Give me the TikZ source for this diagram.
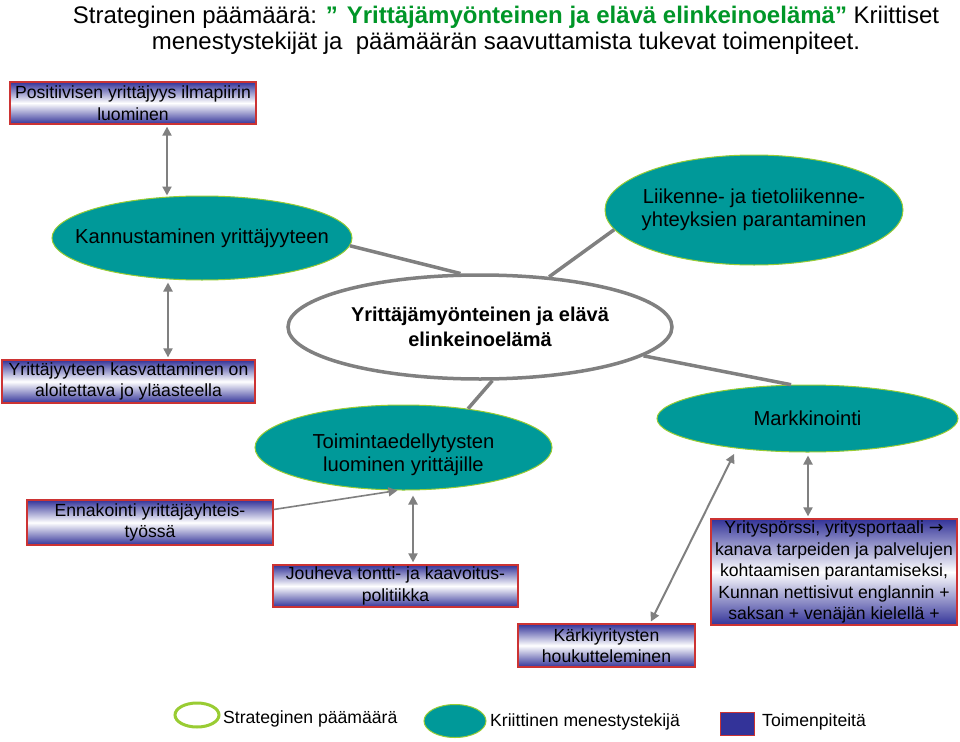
\documentclass[tikz,border=0pt]{standalone}
\usepackage{fontspec}
\setmainfont{Liberation Sans}
\newfontfamily\djv{DejaVu Sans}
\usetikzlibrary{arrows.meta,shapes.geometric,calc}
\definecolor{boxblue}{RGB}{51,51,153}
\definecolor{boxred}{RGB}{204,51,51}
\definecolor{tealc}{RGB}{0,153,153}
\definecolor{limec}{RGB}{153,204,51}
\definecolor{greyc}{RGB}{128,128,128}
\definecolor{titlegreen}{RGB}{0,150,40}
\newcommand\bxf{\fontsize{17.6}{21.5}\selectfont}
\newcommand\elf{\fontsize{20.2}{23}\selectfont}
\newcommand\cnf{\fontsize{20}{25}\selectfont\bfseries}
\newcommand\ttf{\fontsize{24}{26}\selectfont}
\begin{document}
\begin{tikzpicture}[x=1pt,y=-1pt,
  actbox/.style={rectangle, draw=boxred, line width=1.3pt, top color=boxblue,
    bottom color=boxblue, middle color=white, inner sep=0pt, align=center, font=\bxf},
  cfact/.style={ellipse, draw=limec, line width=1pt, fill=tealc, inner sep=0pt},
  etxt/.style={inner sep=0pt, align=center, font=\elf},
  conn/.style={draw=greyc, line width=3.5pt},
  dbl/.style={draw=greyc, fill=greyc, line width=2pt, {Triangle[length=9pt,width=9pt]}-{Triangle[length=9pt,width=9pt]}},
  sgl/.style={draw=greyc, fill=greyc, line width=1.6pt, -{Triangle[length=9pt,width=9pt]}},
  legt/.style={anchor=west, inner sep=0pt, font=\bxf}]
\fill[white] (0,0) rectangle (960,741);
\useasboundingbox (0,0) rectangle (960,741);

% title
\node[align=center, font=\ttf, inner sep=0pt] (title) at (506,30)
  {Strateginen päämäärä: {\color{titlegreen}\bfseries ” Yrittäjämyönteinen ja elävä elinkeinoelämä”} Kriittiset\\
   menestystekijät ja~ päämäärän saavuttamista tukevat toimenpiteet.};

% action boxes
\node[actbox, minimum width=246pt, minimum height=42pt] (b1) at (133,103)
  {Positiivisen yrittäjyys ilmapiirin\\luominen};
\node[actbox, minimum width=253pt, minimum height=43pt] (b2) at (128.5,381.5)
  {Yrittäjyyteen kasvattaminen on\\aloitettava jo yläasteella};
\node[actbox, minimum width=246pt, minimum height=45pt] (b3) at (150,522.5)
  {Ennakointi yrittäjäyhteis-\\työssä};
\node[actbox, minimum width=245pt, minimum height=42pt] (b4) at (395.5,586)
  {Jouheva tontti- ja kaavoitus-\\politiikka};
\node[actbox, minimum width=177pt, minimum height=43pt] (b5) at (606.5,645.5)
  {Kärkiyritysten\\houkutteleminen};
\node[actbox, minimum width=246pt, minimum height=106pt] (b6) at (834,572)
  {Yrityspörssi, yritysportaali {\djv →}\\kanava tarpeiden ja palvelujen\\kohtaamisen parantamiseksi,\\Kunnan nettisivut englannin +\\saksan + venäjän kielellä +};

% critical factors
\node[cfact, minimum width=300pt, minimum height=84pt] (kann) at (202,238) {};
\node[etxt] (kannT) at (kann) {Kannustaminen yrittäjyyteen};
\node[cfact, minimum width=298pt, minimum height=110pt] (liik) at (754,210) {};
\node[etxt] (liikT) at (liik) {Liikenne- ja tietoliikenne-\\yhteyksien parantaminen};
\node[cfact, minimum width=297pt, minimum height=85pt] (toim) at (403.5,447.5) {};
\node[etxt] (toimT) at (403.5,455) {Toimintaedellytysten\\luominen yrittäjille};
\node[cfact, minimum width=301pt, minimum height=67pt] (mark) at (807.5,418.5) {};
\node[etxt] (markT) at (mark) {Markkinointi};

% strategic goal
\node[ellipse, draw=greyc, line width=3.5pt, fill=white, inner sep=0pt,
  minimum width=384pt, minimum height=104pt] (cen) at (480,327) {};
\node[inner sep=0pt, align=center, font=\cnf] (cenT) at (cen) {Yrittäjämyönteinen ja elävä\\elinkeinoelämä};

% connectors
\draw[conn] (kann.-3) -- (cen.110);
\draw[conn] (liik.188) -- (cen.36);
\draw[conn] (cen.-77) -- (toim.31);
\draw[conn] (cen.-10) -- (mark.116);

\draw[dbl, shorten <=2pt] ([xshift=34pt]b1.south) -- ([xshift=34pt]b1.south |- kann.north);
\draw[dbl, shorten <=2pt, shorten >=2pt] ([xshift=-34pt]kann.south) -- ([xshift=-34pt]kann.south |- b2.north);
\draw[sgl] (b3.6) -- (toim.-98);
\draw[dbl, shorten <=2pt, shorten >=5pt] ([xshift=17.5pt]b4.north) -- ([xshift=17.5pt]b4.north |- toim.south);
\draw[dbl, shorten <=2pt, shorten >=6pt] (b5.27) -- (mark.203.5);
\draw[dbl, shorten <=2pt, shorten >=3pt] ([xshift=-26pt]b6.north) -- ([xshift=-26pt]b6.north |- mark.south);

% legend
\node[ellipse, draw=limec, line width=3pt, inner sep=0pt, minimum width=44pt, minimum height=24pt] (lg1) at (197,715) {};
\node[legt] (lg1t) at (223,719) {Strateginen päämäärä};
\node[cfact, minimum width=62pt, minimum height=33pt] (lg2) at (455,721) {};
\node[legt] (lg2t) at (490,722) {Kriittinen menestystekijä};
\node[rectangle, draw=boxred, line width=1pt, fill=boxblue, minimum width=34pt, minimum height=23pt, inner sep=0pt] (lg3) at (737,723.5) {};
\node[legt] (lg3t) at (762,722) {Toimenpiteitä};
\end{tikzpicture}
\end{document}
